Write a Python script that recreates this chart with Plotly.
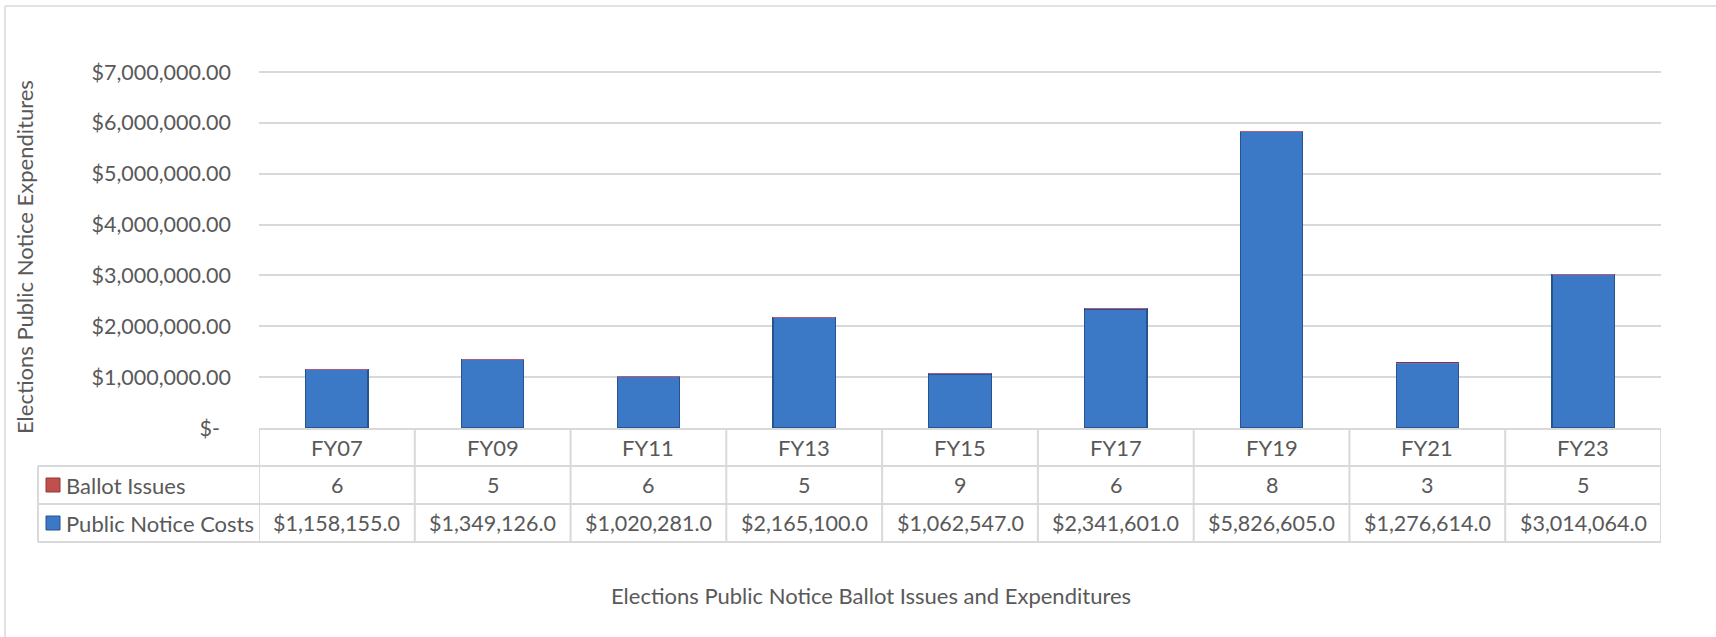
import plotly.graph_objects as go

# ---------------- data ----------------
categories = ["FY07", "FY09", "FY11", "FY13", "FY15", "FY17", "FY19", "FY21", "FY23"]
ballot_issues = [6, 5, 6, 5, 9, 6, 8, 3, 5]
public_notice_costs = [1158155.0, 1349126.0, 1020281.0, 2165100.0, 1062547.0,
                       2341601.0, 5826605.0, 1276614.0, 3014064.0]
y_tick_values = [0, 1000000, 2000000, 3000000, 4000000, 5000000, 6000000, 7000000]
series_names = ["Ballot Issues", "Public Notice Costs"]
y_title = "Elections Public Notice Expenditures"
x_title = "Elections Public Notice Ballot Issues and Expenditures"

# ---------------- layout geometry (pixels) ----------------
W, H = 1716, 637
L, R, T, B = 259, 1661, 70, 428          # plot area (7M gridline at y=72)
PW, PH = R - L, B - T
Y_MAX = 7000000 * PH / (B - 72)
FONT = "Lato"
TXT = "#595959"
GRID = "#D9D9D9"
WORD_SIZE = 22
NUM_SIZE = 21.5


def xp(px):
    return (px - L) / PW


def yp(py):
    return (B - py) / PH


def tick_text(v):
    return "$-\u00a0\u00a0" if v == 0 else f"${v:,.2f}"


fig = go.Figure()
fig.add_trace(go.Bar(
    x=categories, y=public_notice_costs, name=series_names[1], width=0.40,
    marker=dict(color="#3B78C6", line=dict(color="#24538F", width=1.2)),
))
fig.add_trace(go.Bar(
    x=categories, y=ballot_issues, name=series_names[0], width=0.40,
    marker=dict(color="#C0504D", line=dict(color="#B85A78", width=1)),
))

shapes = []
annotations = []

# chart border (top / left visible)
shapes.append(dict(type="line", xref="paper", yref="paper", x0=xp(5), x1=xp(W + 10),
                   y0=yp(6), y1=yp(6), line=dict(color=GRID, width=1.5)))
shapes.append(dict(type="line", xref="paper", yref="paper", x0=xp(5), x1=xp(5),
                   y0=yp(6), y1=yp(H + 10), line=dict(color=GRID, width=1.5)))

# data table
row_y = [429, 466, 504, 542]
for py in row_y:
    x0 = L if py == 429 else 38
    shapes.append(dict(type="line", xref="paper", yref="paper", x0=xp(x0), x1=xp(R),
                       y0=yp(py), y1=yp(py), line=dict(color=GRID, width=2)))
for i in range(len(categories) + 1):
    shapes.append(dict(type="line", xref="x", yref="paper", x0=i - 0.5, x1=i - 0.5,
                       y0=yp(429), y1=yp(542), line=dict(color=GRID, width=2)))
shapes.append(dict(type="line", xref="paper", yref="paper", x0=xp(38), x1=xp(38),
                   y0=yp(466), y1=yp(542), line=dict(color=GRID, width=2)))

# legend keys in table
key_colors = ["#C0504D", "#3B78C6"]
key_lines = ["#943634", "#24538F"]
for k, (cy, name) in enumerate(zip([485, 523], series_names)):
    shapes.append(dict(type="rect", xref="paper", yref="paper",
                       x0=xp(46), x1=xp(60), y0=yp(cy - 7), y1=yp(cy + 7),
                       fillcolor=key_colors[k], line=dict(color=key_lines[k], width=1)))
    annotations.append(dict(xref="paper", yref="paper", x=xp(64), y=yp(cy),
                            text=name, showarrow=False, xanchor="left", yanchor="middle",
                            font=dict(family=FONT, size=WORD_SIZE, color=TXT)))

for i, cat in enumerate(categories):
    annotations.append(dict(xref="x", yref="paper", x=cat, y=yp(447), text=cat,
                            showarrow=False, xanchor="center", yanchor="middle",
                            font=dict(family=FONT, size=WORD_SIZE, color=TXT)))
    annotations.append(dict(xref="x", yref="paper", x=cat, y=yp(485), text=str(ballot_issues[i]),
                            showarrow=False, xanchor="center", yanchor="middle",
                            font=dict(family=FONT, size=NUM_SIZE, color=TXT)))
    annotations.append(dict(xref="x", yref="paper", x=cat, y=yp(523),
                            text=f"${public_notice_costs[i]:,.1f}",
                            showarrow=False, xanchor="center", yanchor="middle",
                            font=dict(family=FONT, size=NUM_SIZE, color=TXT)))

# titles
annotations.append(dict(xref="paper", yref="paper", x=xp(24), y=yp(257), text=y_title,
                        textangle=-90, showarrow=False, xanchor="center", yanchor="middle",
                        font=dict(family=FONT, size=WORD_SIZE, color=TXT)))
annotations.append(dict(xref="paper", yref="paper", x=xp(871), y=yp(595), text=x_title,
                        showarrow=False, xanchor="center", yanchor="middle",
                        font=dict(family=FONT, size=WORD_SIZE, color=TXT)))

fig.update_layout(
    width=W, height=H, barmode="stack", showlegend=False,
    margin=dict(l=L, r=W - R, t=T, b=H - B, pad=0),
    paper_bgcolor="white", plot_bgcolor="white",
    font=dict(family=FONT, size=WORD_SIZE, color=TXT),
    shapes=shapes, annotations=annotations,
    xaxis=dict(type="category", range=[-0.5, len(categories) - 0.5],
               showticklabels=False, showgrid=False, zeroline=False, showline=False, ticks=""),
    yaxis=dict(range=[0, Y_MAX], tickvals=y_tick_values,
               ticktext=[tick_text(v) for v in y_tick_values],
               showgrid=True, gridcolor=GRID, gridwidth=1.5, zeroline=False, showline=False,
               ticks="", ticklabelstandoff=27,
               tickfont=dict(family=FONT, size=NUM_SIZE, color=TXT)),
)

fig.write_html("out.html", config={"displayModeBar": False},
               post_script="document.body.style.margin='0';")
